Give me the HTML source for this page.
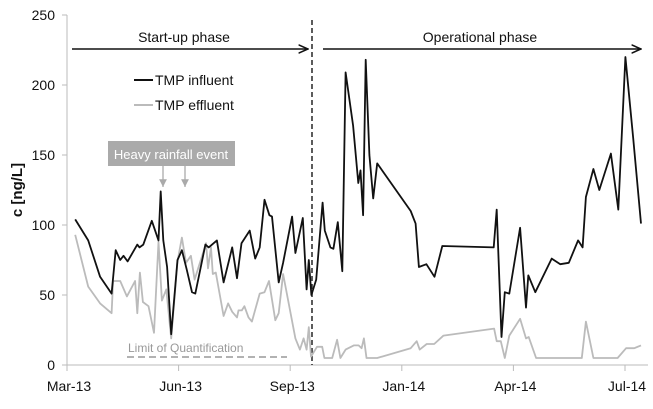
<!DOCTYPE html>
<html><head><meta charset="utf-8"><style>
body{margin:0;background:#fff;}
svg text{font-family:"Liberation Sans",Arial,sans-serif;}
</style></head><body>
<svg id="chart" width="653" height="404" xmlns="http://www.w3.org/2000/svg">
<defs>
<marker id="ah" viewBox="0 0 10 10" refX="9" refY="5" markerWidth="7" markerHeight="7" orient="auto"><path d="M0,1 L9,5 L0,9" fill="none" stroke="#111" stroke-width="1.5"/></marker>
<marker id="ahg" viewBox="0 0 10 10" refX="10" refY="5" markerWidth="6" markerHeight="6" orient="auto"><path d="M0,0 L10,5 L0,10 Z" fill="#aaa"/></marker>
</defs>
<g id="axes"></g>
<g id="annot">
<text x="22" y="190" transform="rotate(-90 22 190)" text-anchor="middle" font-size="15" font-weight="bold" fill="#111">c [ng/L]</text>
<line x1="312" y1="20" x2="312" y2="365" stroke="#333" stroke-width="1.6" stroke-dasharray="5,3"/>
<line x1="72" y1="49" x2="308" y2="49" stroke="#111" stroke-width="1.5" marker-end="url(#ah)"/>
<text x="184" y="42" text-anchor="middle" font-size="14" fill="#111">Start-up phase</text>
<line x1="323" y1="49" x2="641" y2="49" stroke="#111" stroke-width="1.5" marker-end="url(#ah)"/>
<text x="480" y="42" text-anchor="middle" font-size="14" fill="#111">Operational phase</text>
<line x1="134" y1="80" x2="153" y2="80" stroke="#111" stroke-width="2"/>
<text x="155" y="85" font-size="14" fill="#111">TMP influent</text>
<line x1="134" y1="105" x2="153" y2="105" stroke="#bbb" stroke-width="2"/>
<text x="155" y="110" font-size="14" fill="#111">TMP effluent</text>
<rect x="108" y="141" width="127" height="25" fill="#aaa"/>
<text x="171" y="159" text-anchor="middle" font-size="13" fill="#fff">Heavy rainfall event</text>
<line x1="163" y1="166" x2="163" y2="187" stroke="#aaa" stroke-width="1.3" marker-end="url(#ahg)"/>
<line x1="185" y1="166" x2="185" y2="187" stroke="#aaa" stroke-width="1.3" marker-end="url(#ahg)"/>
<line x1="127" y1="357" x2="287" y2="357" stroke="#999" stroke-width="1.5" stroke-dasharray="7,4"/>
<text x="128" y="352" font-size="12" fill="#999">Limit of Quantification</text>
</g>
<g id="series"></g>
</svg>
<script>
const xTickLabels=["Mar-13","Jun-13","Sep-13","Jan-14","Apr-14","Jul-14"];
const xTickMonths=[0,3,6,9,12,15];
const yTicks=[0,50,100,150,200,250];
const influentX=[0.22,0.57,0.89,1.20,1.31,1.43,1.52,1.63,1.89,1.95,2.05,2.28,2.46,2.52,2.59,2.69,2.80,2.97,3.09,3.22,3.36,3.45,3.72,3.81,4.03,4.21,4.44,4.57,4.69,4.91,5.06,5.18,5.31,5.44,5.51,5.69,5.81,6.05,6.14,6.34,6.44,6.50,6.57,6.70,6.87,6.93,7.08,7.16,7.28,7.40,7.49,7.69,7.83,7.89,7.96,8.03,8.13,8.23,8.34,9.24,9.37,9.46,9.66,9.88,10.09,11.47,11.55,11.68,11.77,11.89,12.18,12.34,12.40,12.59,13.03,13.26,13.49,13.74,13.86,13.95,14.15,14.31,14.62,14.82,15.01,15.22,15.43];
const influentY=[104,89,63,51,82,75,78,74,86,84,86,103,89,124,89,70,22,75,82,68,52,51,86,84,89,59,84,62,87,96,76,84,118,107,106,59,73,106,80,105,54,75,50,61,116,96,84,83,102,67,209,171,130,139,107,218,150,119,144,110,101,70,72,63,85,84,111,20,52,51,98,41,64,52,76,72,73,89,84,120,140,125,151,111,220,162,101];
const effluentX=[0.22,0.57,0.89,1.20,1.24,1.43,1.61,1.83,1.89,1.96,2.04,2.19,2.34,2.46,2.55,2.67,2.80,2.97,3.09,3.20,3.33,3.43,3.74,3.79,3.87,3.92,4.00,4.21,4.33,4.44,4.57,4.61,4.70,4.77,4.88,4.97,5.18,5.31,5.43,5.60,5.69,5.81,6.14,6.26,6.36,6.44,6.50,6.56,6.72,6.86,6.92,7.13,7.26,7.35,7.49,7.71,7.84,7.92,7.98,8.05,8.34,9.24,9.40,9.48,9.67,9.87,10.12,11.48,11.55,11.66,11.77,11.89,12.18,12.34,12.41,12.61,13.84,13.95,14.15,14.80,15.03,15.25,15.43];
const effluentY=[93,56,44,37,60,60,49,60,37,66,45,42,23,88,46,54,19,74,91,73,78,61,87,69,84,65,66,35,44,38,34,39,39,42,34,31,51,52,60,32,37,65,19,11,19,11,27,6,13,13,5,5,18,5,11,14,14,12,19,5,5,12,17,11,15,15,21,26,17,17,5,21,33,19,20,5,5,31,5,5,12,12,14];

const NS="http://www.w3.org/2000/svg";
function xs(m){return 67+m*37.2;}
function ys(v){return 365-1.4*v;}
const axes=document.getElementById('axes');
function mk(tag,attrs,parent){const e=document.createElementNS(NS,tag);for(const k in attrs)e.setAttribute(k,attrs[k]);parent.appendChild(e);return e;}
let yl=mk('line',{x1:67,y1:ys(250),x2:67,y2:365,stroke:'#bbb','stroke-width':1},axes);


let xl=mk('line',{x1:67,y1:365,x2:648,y2:365,stroke:'#bbb','stroke-width':1},axes);


yTicks.forEach(v=>{
  let t=mk('line',{x1:62,y1:ys(v),x2:67,y2:ys(v),stroke:'#bbb'},axes);
  
  
  let l=mk('text',{x:55,y:ys(v)+5,'text-anchor':'end','font-size':14,fill:'#111'},axes);
  l.textContent=v;
  
  
});
xTickMonths.forEach((m,i)=>{
  let t=mk('line',{x1:xs(m),y1:365,x2:xs(m),y2:371,stroke:'#bbb'},axes);
  
  
  let l=mk('text',{x:xs(m)+2,y:391,'text-anchor':'middle','font-size':14,fill:'#111'},axes);
  l.textContent=xTickLabels[i];
  
  
});
const ser=document.getElementById('series');
function pts(X,Y){return X.map((m,i)=>xs(m).toFixed(1)+','+ys(Y[i]).toFixed(1)).join(' ');}
let eff=mk('polyline',{points:pts(effluentX,effluentY),fill:'none',stroke:'#bbb','stroke-width':1.8,'stroke-linejoin':'round'},ser);


let inf=mk('polyline',{points:pts(influentX,influentY),fill:'none',stroke:'#111','stroke-width':1.8,'stroke-linejoin':'round'},ser);


</script>
</body></html>
